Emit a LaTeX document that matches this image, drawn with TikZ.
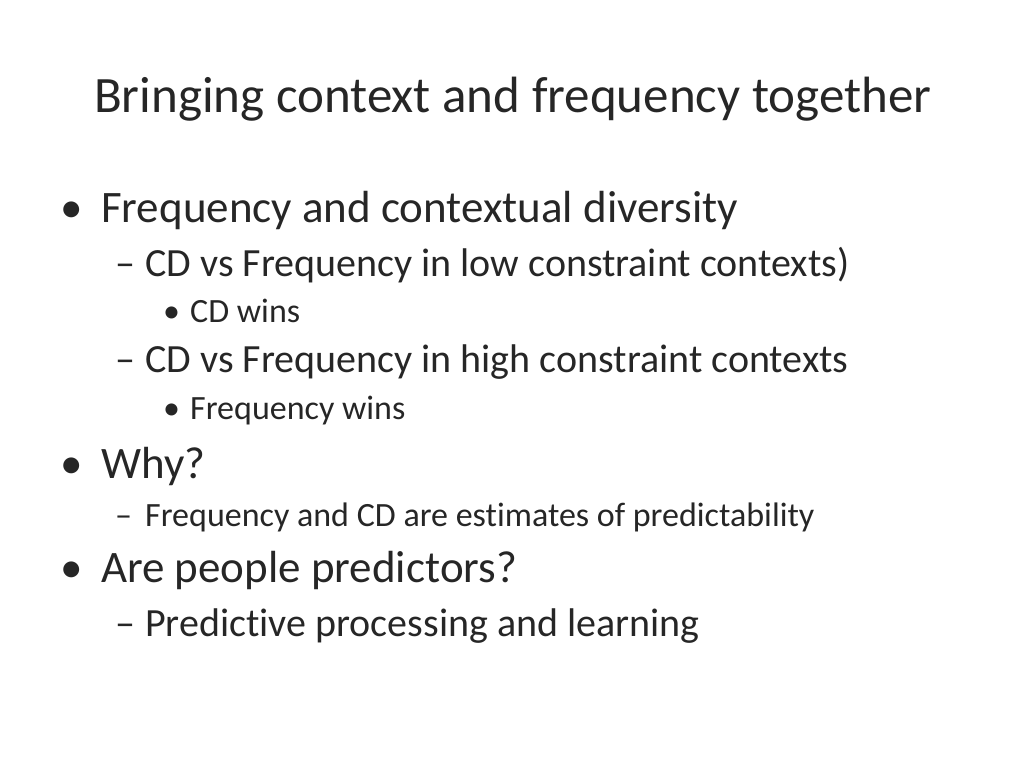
\documentclass[tikz,border=0pt]{standalone}
\usepackage{fontspec}
\setmainfont[Ligatures={NoCommon}]{Carlito}
\begin{document}
\begin{tikzpicture}[x=1pt,y=-1pt,
  t/.style={anchor=base west,inner sep=0pt,text=black!85},
  la/.style={t,font=\fontsize{45}{50}\selectfont},
  lb/.style={t,font=\fontsize{40}{46}\selectfont},
  lbs/.style={t,font=\fontsize{34}{40}\selectfont},
  lc/.style={t,font=\fontsize{34}{40}\selectfont}]
\useasboundingbox (0,0) rectangle (1024,768);
\node[t,font=\fontsize{51}{60}\selectfont] (title) at (94,112) {Bringing context and frequency together};
\node[la] (b1) at (60,222) {•};
\node[la] (a1) at (101,222) {Frequency and contextual diversity};
\node[lb] (d1) at (115,276) {–};
\node[lb] (a2) at (145,276) {CD vs Frequency in low constraint contexts)};
\node[lc] (b2) at (163,322) {•};
\node[lc] (a3) at (190,322) {CD wins};
\node[lb] (d2) at (115,372) {–};
\node[lb] (a4) at (145,372) {CD vs Frequency in high constraint contexts};
\node[lc] (b3) at (163,419) {•};
\node[lc] (a5) at (190,419) {Frequency wins};
\node[la] (b4) at (60,478) {•};
\node[la] (a6) at (101,478) {Why?};
\node[lbs] (d3) at (115,526) {–};
\node[lbs] (a7) at (145,526) {Frequency and CD are estimates of predictability};
\node[la] (b5) at (60,582) {•};
\node[la] (a8) at (101,582) {Are people predictors?};
\node[lb] (d4) at (115,636) {–};
\node[lb] (a9) at (145,636) {Predictive processing and learning};
\end{tikzpicture}
\end{document}
